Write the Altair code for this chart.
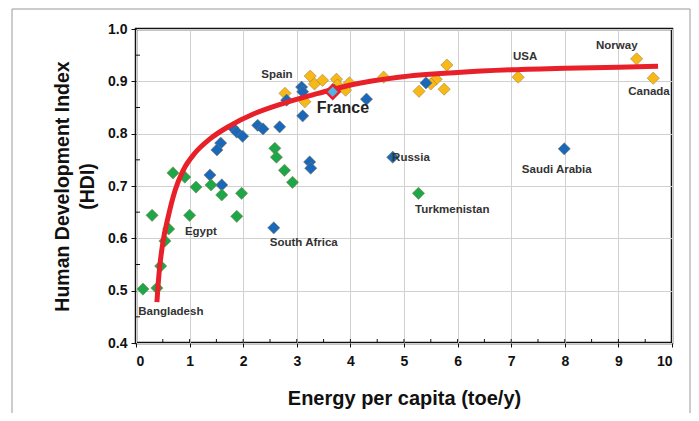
import altair as alt
import pandas as pd

# ---- data ----
yellow_x = [2.78, 3.25, 3.33, 3.48, 3.74, 3.76, 3.98, 3.91, 3.15, 4.62, 5.80, 5.60, 5.50, 5.28, 5.75, 7.13, 9.34, 9.65]
yellow_y = [0.877, 0.910, 0.895, 0.902, 0.904, 0.893, 0.897, 0.883, 0.861, 0.908, 0.931, 0.904, 0.895, 0.881, 0.885, 0.908, 0.943, 0.906]

blue_x = [3.09, 3.11, 2.81, 3.11, 4.30, 3.70, 1.81, 1.88, 1.99, 2.27, 2.37, 2.68, 1.58, 1.51, 3.24, 3.26, 4.79, 1.38, 1.60, 2.57, 5.41, 7.99]
blue_y = [0.889, 0.880, 0.864, 0.834, 0.866, 0.883, 0.811, 0.803, 0.795, 0.816, 0.809, 0.813, 0.782, 0.769, 0.746, 0.734, 0.755, 0.721, 0.702, 0.620, 0.897, 0.771]

green_x = [0.69, 0.91, 1.12, 1.40, 1.60, 1.97, 2.59, 2.62, 2.77, 2.92, 0.30, 1.00, 1.88, 0.61, 0.54, 0.46, 0.13, 0.39, 5.27]
green_y = [0.725, 0.717, 0.698, 0.702, 0.683, 0.686, 0.772, 0.755, 0.730, 0.707, 0.644, 0.644, 0.642, 0.618, 0.595, 0.547, 0.503, 0.505, 0.686]

france_x = [3.67]
france_y = [0.880]

curve_x = [0.39, 0.43, 0.50, 0.60, 0.73, 0.88, 1.10, 1.38, 1.75, 2.20, 2.75, 3.40, 4.00, 4.90, 6.00, 7.00, 8.00, 9.00, 9.74]
curve_y = [0.478, 0.533, 0.591, 0.641, 0.692, 0.730, 0.763, 0.790, 0.815, 0.838, 0.858, 0.877, 0.893, 0.908, 0.917, 0.922, 0.925, 0.927, 0.929]

label_text = ["Spain", "USA", "Norway", "Canada", "Russia", "Saudi Arabia", "Turkmenistan", "South Africa", "Egypt", "Bangladesh"]
label_x = [2.63, 7.26, 8.97, 9.57, 5.13, 7.85, 5.90, 3.13, 1.21, 0.65]
label_y = [0.912, 0.946, 0.967, 0.880, 0.753, 0.730, 0.654, 0.591, 0.612, 0.459]

france_label = ["France"]
france_label_x = [3.86]
france_label_y = [0.849]

x_minor = [i * 0.5 for i in range(1, 20)]
y_minor = [0.45, 0.55, 0.65, 0.75, 0.85, 0.95]

groups = ["yellow", "blue", "green"]
group_colors = ["#F7B818", "#1A68BC", "#1EA64A"]

# ---- tables ----
pts = pd.concat([
    pd.DataFrame({"x": yellow_x, "y": yellow_y, "g": "yellow"}),
    pd.DataFrame({"x": blue_x, "y": blue_y, "g": "blue"}),
    pd.DataFrame({"x": green_x, "y": green_y, "g": "green"}),
], ignore_index=True)
curve = pd.DataFrame({"x": curve_x, "y": curve_y})
france = pd.DataFrame({"x": france_x, "y": france_y})
labels = pd.DataFrame({"t": label_text, "x": label_x, "y": label_y})
flab = pd.DataFrame({"t": france_label, "x": france_label_x, "y": france_label_y})
xm = pd.DataFrame({"x": x_minor})
ym = pd.DataFrame({"y": y_minor})

FONT = "Liberation Sans"

xscale = alt.Scale(domain=[0, 10], nice=False)
yscale = alt.Scale(domain=[0.4, 1.0], nice=False, zero=False)

xax = alt.Axis(values=list(range(0, 11)), format="d", title="Energy per capita (toe/y)",
               labelFontSize=14, labelFontWeight="bold", labelColor="#111", labelFont=FONT,
               titleFontSize=20, titleFontWeight="bold", titleColor="#111", titleFont=FONT,
               titlePadding=20, labelPadding=7, tickSize=4, tickColor="#111", domain=False,
               grid=True, gridColor="#d0d0d0", gridWidth=1)
yax = alt.Axis(values=[0.4, 0.5, 0.6, 0.7, 0.8, 0.9, 1.0], format=".1f",
               title=["Human Development Index", "(HDI)"],
               labelFontSize=14, labelFontWeight="bold", labelColor="#111", labelFont=FONT,
               titleFontSize=19.5, titleFontWeight="bold", titleColor="#111", titleFont=FONT,
               titlePadding=10, labelPadding=4, tickSize=5, tickColor="#111", domain=False,
               grid=True, gridColor="#d0d0d0", gridWidth=1, titleLineHeight=25)

frame = alt.Chart(pd.DataFrame({"a": [0]})).mark_rect(
    fill=None, stroke="#999999", strokeWidth=1
).encode(x=alt.value(-124), x2=alt.value(554), y=alt.value(-20), y2=alt.value(440))

points = alt.Chart(pts).mark_point(shape="diamond", filled=True, size=150, opacity=1,
                                   stroke="#8a7a40", strokeWidth=0.5).encode(
    x=alt.X("x:Q", scale=xscale, axis=xax),
    y=alt.Y("y:Q", scale=yscale, axis=yax),
    color=alt.Color("g:N", scale=alt.Scale(domain=groups, range=group_colors), legend=None),
)

line = alt.Chart(curve).mark_line(color="#E8202A", strokeWidth=5, interpolate="monotone").encode(
    x="x:Q", y="y:Q")

fr = alt.Chart(france).mark_point(shape="diamond", filled=True, size=190, opacity=1,
                                  fill="#4FB5E6", stroke="#E8202A", strokeWidth=2.5).encode(
    x="x:Q", y="y:Q")

txt = alt.Chart(labels).mark_text(font=FONT, fontSize=11.5, fontWeight="bold", color="#333333").encode(
    x="x:Q", y="y:Q", text="t:N")

ftxt = alt.Chart(flab).mark_text(font=FONT, fontSize=16, fontWeight="bold", color="#222222").encode(
    x="x:Q", y="y:Q", text="t:N")

xt = alt.Chart(xm).mark_rule(color="#111", strokeWidth=1).encode(
    x="x:Q", y=alt.value(314), y2=alt.value(310))
yt = alt.Chart(ym).mark_rule(color="#111", strokeWidth=1).encode(
    y="y:Q", x=alt.value(0), x2=alt.value(4))

chart = alt.layer(frame, points, line, fr, txt, ftxt, xt, yt).properties(
    width=536, height=314,
    autosize=alt.AutoSizeParams(type="none"),
    padding={"left": 128, "top": 21, "right": 19, "bottom": 70},
    background="white",
).configure_view(stroke="#111", strokeWidth=2.5)

chart.save("out.html", embed_options={"renderer": "svg", "actions": False})
